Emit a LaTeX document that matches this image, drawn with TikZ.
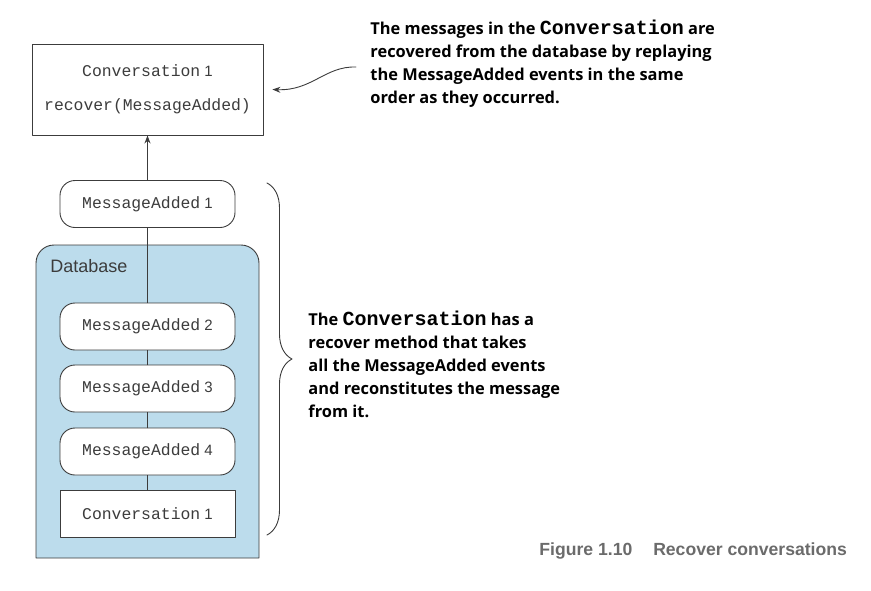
\documentclass[tikz,border=0pt]{standalone}
\usepackage{fontspec}
\setmainfont{Open Sans}
\newfontfamily\codefont{Liberation Mono}
\newfontfamily\boxfont{Liberation Sans}
\usetikzlibrary{decorations.pathreplacing,arrows.meta}
\definecolor{dbblue}{HTML}{BCDCEC}
\definecolor{linegray}{HTML}{3C3C3C}
\definecolor{capgray}{HTML}{6B6B6B}
\newcommand{\cd}[1]{{\codefont\fontsize{16.4}{18}\selectfont #1}}
\newcommand{\cdb}[1]{{\codefont\bfseries\fontsize{20}{23}\selectfont #1}}
\tikzset{
  event/.style={draw=linegray, fill=white, rounded corners=15pt, minimum width=175pt,
    minimum height=47pt, inner sep=0pt, font=\boxfont\fontsize{15}{18}\selectfont, text=linegray},
  record/.style={event, rounded corners=0pt},
  note/.style={align=left, anchor=north west, inner sep=0pt, font=\bfseries\fontsize{16.4}{23}\selectfont},
}
\begin{document}
\begin{tikzpicture}[x=1pt, y=-1pt, line join=round, line cap=round, >={Stealth[length=8pt,width=6pt]}, line width=0.9pt]
\useasboundingbox (0,0) rectangle (871,590);
% database
\draw[draw=linegray, fill=dbblue] (36,558) [rounded corners=18pt] -- (36,245) -- (259,245) [sharp corners] -- (259,558) -- cycle;
\node[anchor=west, inner sep=0pt, font=\boxfont\fontsize{18}{20}\selectfont, text=linegray] (dblabel) at (50,266) {Database};
% conversation on top
\node[draw=linegray, fill=white, minimum width=231pt, minimum height=91pt, align=center,
  font=\boxfont\fontsize{15}{18}\selectfont, text=linegray] (conv) at (147.5,89.5)
  {\cd{Conversation} 1\\[16pt]\cd{recover(MessageAdded)}};
% events
\node[event] (ev1) at (147.5,204) {\cd{MessageAdded} 1};
\node[event] (ev2) at (147.5,326.5) {\cd{MessageAdded} 2};
\node[event] (ev3) at (147.5,388.5) {\cd{MessageAdded} 3};
\node[event] (ev4) at (147.5,451.5) {\cd{MessageAdded} 4};
\node[record] (snap) at (147.5,514) {\cd{Conversation} 1};
\draw[linegray] (ev1) -- (ev2) (ev2) -- (ev3) (ev3) -- (ev4) (ev4) -- (snap);
\draw[->, linegray] (ev1) -- (conv);
% notes
\node[note] (topnote) at (370,20) {The messages in the \cdb{Conversation} are\\
  recovered from the database by replaying\\
  the MessageAdded events in the same\\
  order as they occurred.};
\coordinate (from) at (356,67);
\draw[->, linegray] (from) .. controls (325,66) and (312,91) .. ([xshift=9pt]conv.east);
\draw[linegray, decorate, decoration={brace, amplitude=25pt}] (267,183) -- (267,535);
\node[note] (sidenote) at (308,311) {The \cdb{Conversation} has a\\
  recover method that takes\\
  all the MessageAdded events\\
  and reconstitutes the message\\
  from it.};
\node[anchor=base west, inner sep=0pt, font=\boxfont\bfseries\fontsize{17.6}{20}\selectfont, text=capgray] (caption) at (539,555.5) {Figure 1.10\hspace{16pt} Recover conversations};
\end{tikzpicture}
\end{document}
